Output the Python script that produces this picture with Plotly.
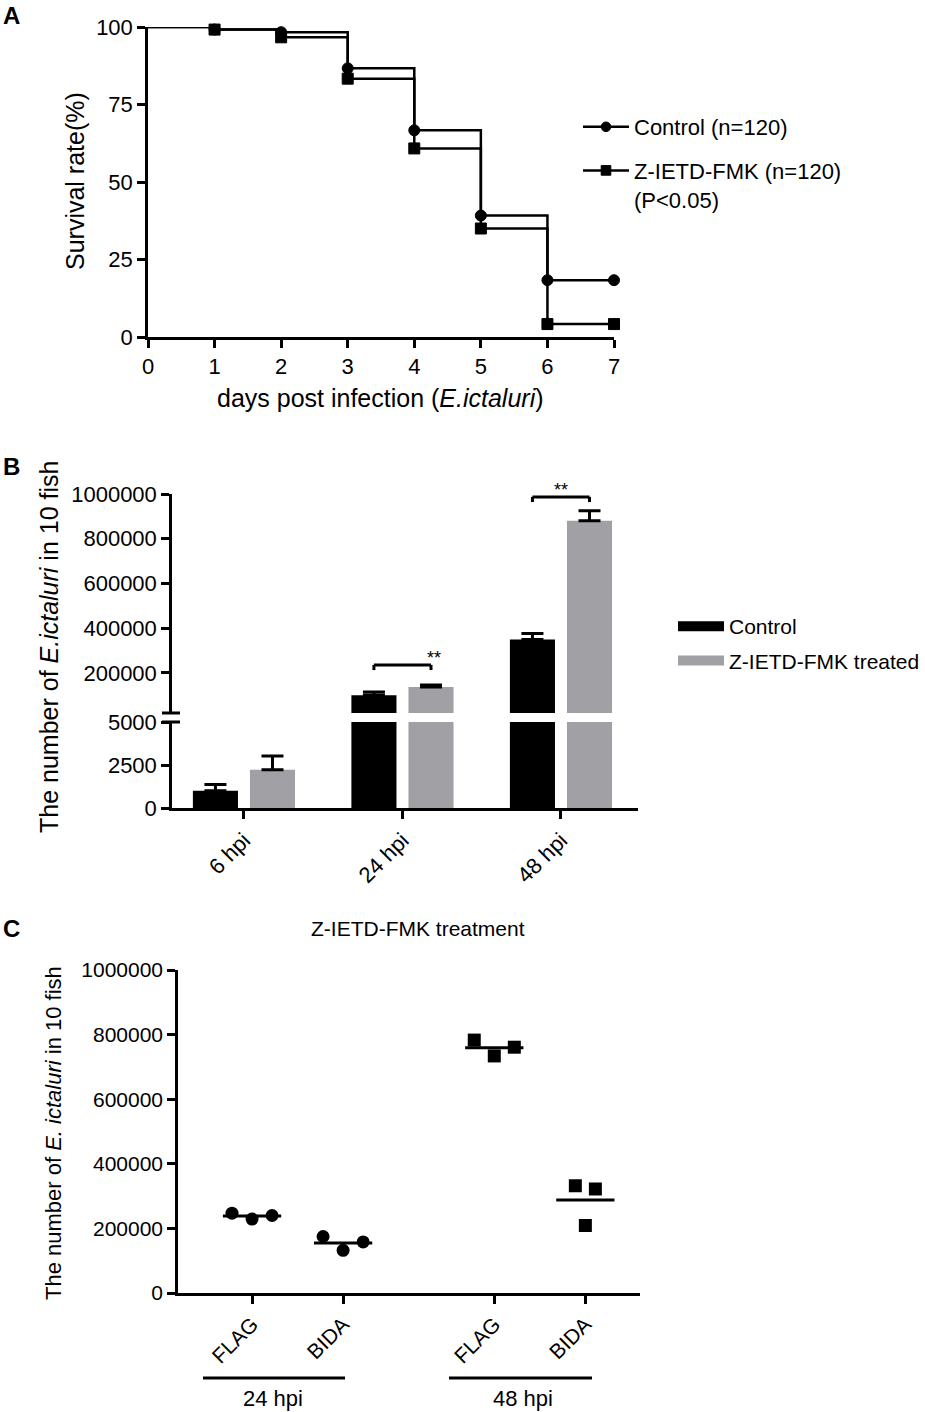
import numpy as np
import plotly.graph_objects as go

W, H = 925, 1412
FONT = "Arial, Liberation Sans, sans-serif"
GREY = "#a0a0a5"

# ---- panel A: survival (%) per day
days = [0, 1, 2, 3, 4, 5, 6, 7]
surv_control = [100, 99.17, 98.33, 86.67, 66.67, 39.17, 18.33, 18.33]
surv_treated = [100, 99.17, 96.67, 83.33, 60.83, 35.0, 4.17, 4.17]

# ---- panel B: bacteria counts, mean and SD
times = ["6 hpi", "24 hpi", "48 hpi"]
ctrl_mean = [1000, 100000, 350000]
ctrl_sd = [360, 15000, 26000]
trt_mean = [2230, 137000, 880000]
trt_sd = [790, 9000, 45000]

# ---- panel C: individual counts
c_labels = ["FLAG", "BIDA", "FLAG", "BIDA"]
c_hpi = ["24 hpi", "48 hpi"]
flag_24 = [247000, 229000, 240000]
bida_24 = [175000, 132000, 158000]
flag_48 = [783000, 734000, 761000]
bida_48 = [332000, 209000, 322000]


def px(x):
    return x / W


def py(y):
    return 1 - y / H


axis_style = dict(
    showline=True, linecolor="black", linewidth=2.5,
    ticks="outside", ticklen=8, tickwidth=2.5, tickcolor="black",
    showgrid=False, zeroline=False, automargin=False,
    tickfont=dict(family=FONT, size=22, color="black"),
)

fig = go.Figure()

# panel A: step line, markers from day 1 on (day 0 has no symbol)
for name, vals, sym in [("Control (n=120)", surv_control, "circle"),
                        ("Z-IETD-FMK (n=120)<br>(P<0.05)", surv_treated, "square")]:
    fig.add_trace(go.Scatter(
        x=days, y=vals, name=name, mode="lines+markers",
        line=dict(shape="hv", color="black", width=2.5),
        marker=dict(symbol=sym, color="#000000", size=[0] + [11] * (len(days) - 1),
                    opacity=1, line=dict(color="#000000", width=1)),
        opacity=1, cliponaxis=False, xaxis="x", yaxis="y", legend="legend",
        legendgroup=name,
    ))

# panel B: same bars on a lower and an upper axis (broken axis)
for yax in ["y2", "y3"]:
    fig.add_trace(go.Bar(
        x=times, y=ctrl_mean, marker=dict(color="black", line_width=0),
        error_y=dict(type="data", array=ctrl_sd, arrayminus=[0] * 3, symmetric=False,
                     color="black", thickness=3, width=11),
        xaxis="x2", yaxis=yax, showlegend=False, offsetgroup="c",
    ))
    fig.add_trace(go.Bar(
        x=times, y=trt_mean, marker=dict(color=GREY, line_width=0),
        error_y=dict(type="data", array=trt_sd, arrayminus=[0] * 3, symmetric=False,
                     color="black", thickness=3, width=11),
        xaxis="x2", yaxis=yax, showlegend=False, offsetgroup="t",
    ))

# legend swatches for panel B
for name, col in [("Control", "black"), ("Z-IETD-FMK treated", GREY)]:
    fig.add_trace(go.Scatter(
        x=[None], y=[None], name=name, mode="lines",
        line=dict(color=col, width=11), xaxis="x2", yaxis="y2",
        legend="legend2", legendgroup=name,
    ))

# panel C
c_pos = [0, 1, 2.66, 3.66]
c_jitter = [[-0.22, 0, 0.22], [-0.22, 0, 0.22], [-0.22, 0, 0.22], [-0.11, 0, 0.11]]
c_sets = [flag_24, bida_24, flag_48, bida_48]
c_syms = ["circle", "circle", "square", "square"]
for pos, jit, vals, sym in zip(c_pos, c_jitter, c_sets, c_syms):
    fig.add_trace(go.Scatter(
        x=[pos + j for j in jit], y=vals, mode="markers",
        marker=dict(symbol=sym, size=13, color="black"),
        xaxis="x3", yaxis="y4", showlegend=False, cliponaxis=False,
    ))
    m = float(np.mean(vals))
    fig.add_trace(go.Scatter(
        x=[pos - 0.32, pos + 0.32], y=[m, m], mode="lines",
        line=dict(color="black", width=3),
        xaxis="x3", yaxis="y4", showlegend=False,
    ))

fig.update_layout(
    width=W, height=H,
    margin=dict(l=0, r=0, t=0, b=0, autoexpand=False),
    paper_bgcolor="white", plot_bgcolor="white",
    font=dict(family=FONT, color="black"),
    barmode="group", bargap=0.28, bargroupgap=0.21,
    xaxis=dict(axis_style, domain=[px(148), px(614)], range=[0, 7], dtick=1,
               anchor="y"),
    yaxis=dict(axis_style, domain=[py(337), py(27)], range=[0, 100],
               tickvals=[0, 25, 50, 75, 100], anchor="x"),
    xaxis2=dict(axis_style, domain=[px(172), px(638)], range=[-0.454, 2.486],
                tickangle=-45, anchor="y2"),
    yaxis2=dict(axis_style, domain=[py(808), py(722)], range=[0, 5000],
                tickvals=[0, 2500, 5000], tickformat="d", anchor="x2"),
    yaxis3=dict(axis_style, domain=[py(713), py(494)], range=[21000, 1000000],
                tickvals=[200000, 400000, 600000, 800000, 1000000], tickformat="d",
                anchor="x2"),
    xaxis3=dict(axis_style, domain=[px(178), px(640)], range=[-0.813, 4.26],
                tickvals=c_pos, ticktext=c_labels, tickangle=-45, anchor="y4",
                tickfont=dict(family=FONT, size=21, color="black")),
    yaxis4=dict(axis_style, domain=[py(1293), py(970)], range=[0, 1000000],
                tickvals=[0, 200000, 400000, 600000, 800000, 1000000], tickformat="d",
                anchor="x3", tickfont=dict(family=FONT, size=21, color="black")),
    legend=dict(x=px(578), y=py(106), xanchor="left", yanchor="top",
                font=dict(family=FONT, size=22, color="black"),
                traceorder="grouped", tracegroupgap=12, valign="top",
                itemwidth=46, bgcolor="rgba(0,0,0,0)"),
    legend2=dict(x=px(673), y=py(606), xanchor="left", yanchor="top",
                 font=dict(family=FONT, size=21, color="black"),
                 traceorder="grouped", tracegroupgap=4, itemwidth=46,
                 bgcolor="rgba(0,0,0,0)"),
)

ann = []


def text(x, y, s, size, angle=0, bold=False):
    ann.append(dict(
        x=px(x), y=py(y), xref="paper", yref="paper", text=s, showarrow=False,
        textangle=angle, xanchor="center", yanchor="middle",
        font=dict(family=FONT, size=size, color="black",
                  weight="bold" if bold else "normal"),
    ))


text(11, 16, "A", 24, bold=True)
text(11, 466, "B", 24, bold=True)
text(11, 928, "C", 24, bold=True)
text(380, 398, "days post infection (<i>E.ictaluri</i>)", 25)
text(75, 181, "Survival rate(%)", 25, angle=-90)
text(49, 647, "The number of <i>E.ictaluri</i> in 10 fish", 25, angle=-90)
text(53, 1133, "The number of <i>E. ictaluri</i> in 10 fish", 22, angle=-90)
text(418, 928, "Z-IETD-FMK treatment", 21)
text(273, 1398, c_hpi[0], 22)
text(523, 1398, c_hpi[1], 22)

# significance stars (panel B), y in page pixels
for xs, ys in [(1.2, 658), (2.0, 490)]:
    ann.append(dict(x=xs, y=py(ys), xref="x2", yref="paper", text="**",
                    showarrow=False, yanchor="middle",
                    font=dict(family=FONT, size=18, color="black")))

fig.update_layout(annotations=ann)

shapes = []
line = dict(color="black", width=3)
for x0, x1, ytop, ytick in [(0.82, 1.18, 236000, 213000),
                            (1.82, 2.18, 987000, 964000)]:
    shapes.append(dict(type="line", xref="x2", yref="y3", x0=x0, x1=x1, y0=ytop, y1=ytop, line=line))
    shapes.append(dict(type="line", xref="x2", yref="y3", x0=x0, x1=x0, y0=ytop, y1=ytick, line=line))
    shapes.append(dict(type="line", xref="x2", yref="y3", x0=x1, x1=x1, y0=ytop, y1=ytick, line=line))

# axis break marks
for yb in [713, 722]:
    shapes.append(dict(type="line", xref="paper", yref="paper",
                       x0=px(162), x1=px(180), y0=py(yb), y1=py(yb), line=line))

# group bars under panel C
for xa, xb in [(203, 345), (449, 592)]:
    shapes.append(dict(type="line", xref="paper", yref="paper",
                       x0=px(xa), x1=px(xb), y0=py(1378), y1=py(1378), line=line))

fig.update_layout(shapes=shapes)

# drop the default 8px body margin so the figure fills the window exactly
fig.write_html("out.html", config={"displayModeBar": False},
               post_script="document.body.style.margin='0px';")
